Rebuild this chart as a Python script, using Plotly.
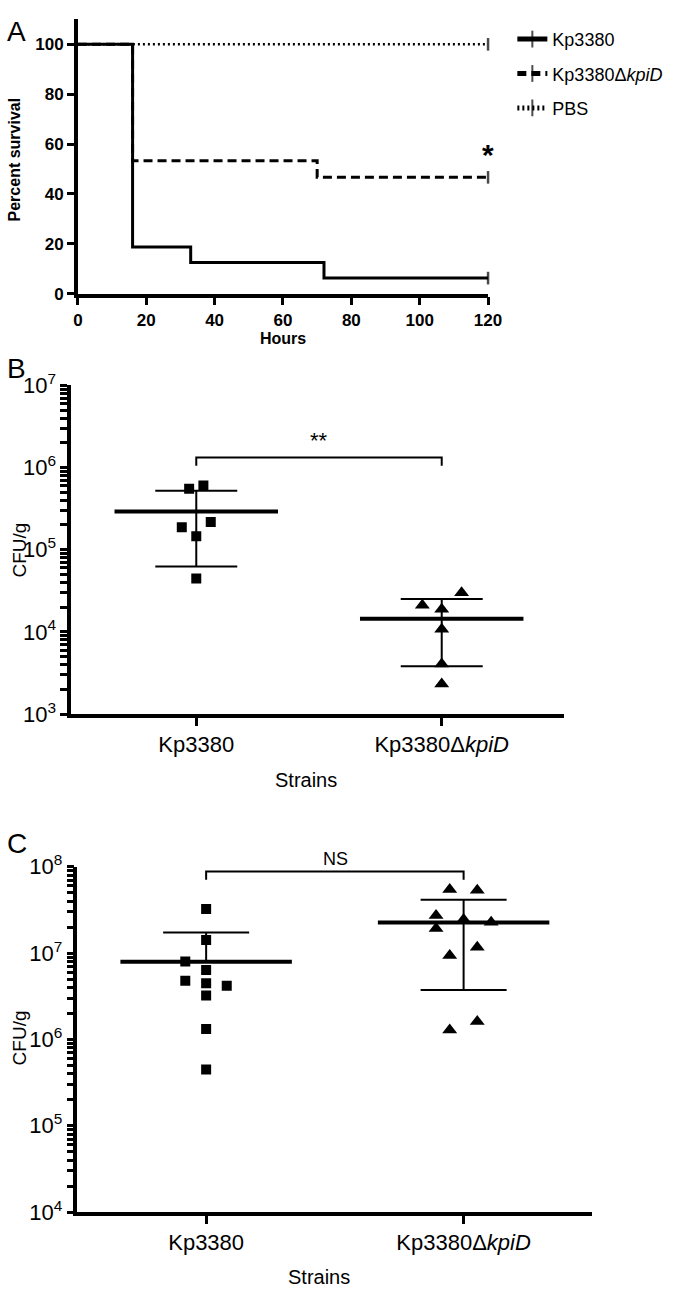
import numpy as np
import plotly.graph_objects as go

W, H = 677, 1307
FONT = "Liberation Sans, Arial, Helvetica, sans-serif"

# ---------------- Panel A data (Kaplan-Meier) ----------------
km_kp3380_t = [0, 16, 33, 72, 120]
km_kp3380_s = [100, 18.75, 12.5, 6.25, 6.25]
km_kpid_t = [0, 16, 70, 120]
km_kpid_s = [100, 53.33, 46.67, 46.67]
km_pbs_t = [0, 120]
km_pbs_s = [100, 100]
a_xticks = [0, 20, 40, 60, 80, 100, 120]
a_yticks = [0, 20, 40, 60, 80, 100]
km_names = ["Kp3380", "Kp3380Δ<i>kpiD</i>", "PBS"]

# ---------------- Panel B data ----------------
strains = ["Kp3380", "Kp3380Δ<i>kpiD</i>"]
b_kp3380 = [5.5e5, 6.05e5, 1.88e5, 2.18e5, 1.46e5, 4.48e4]
b_kpid = [2.99e4, 2.11e4, 1.89e4, 1.08e4, 4.08e3, 2.32e3]
b_jit_kp3380 = [-0.029, 0.029, -0.059, 0.059, 0, 0]
b_jit_kpid = [0.081, -0.079, 0, 0, 0, 0]
b_exps = [3, 4, 5, 6, 7]

# ---------------- Panel C data ----------------
c_kp3380 = [3.24e7, 1.42e7, 7.96e6, 6.35e6, 4.77e6, 4.46e6, 4.19e6, 3.22e6, 1.32e6, 4.49e5]
c_kpid = [5.45e7, 5.35e7, 2.72e7, 2.45e7, 2.28e7, 1.92e7, 1.17e7, 9.40e6, 1.29e6, 1.61e6]
c_jit_kp3380 = [0, 0, -0.081, 0, -0.081, 0, 0.08, 0, 0, 0]
c_jit_kpid = [-0.054, 0.053, -0.107, 0, 0.107, -0.107, 0.053, -0.054, -0.054, 0.053]
c_exps = [4, 5, 6, 7, 8]

# significance brackets (data units): y_top, y_end
b_bracket = (1.32e6, 1.05e6)
c_bracket = (8.77e7, 7.07e7)


def px_x(p):
    return p / W


def px_y(p):
    return 1 - p / H


fig = go.Figure()

# ---- Panel A traces ----
km_sets = [(km_kp3380_t, km_kp3380_s, "solid", 3),
           (km_kpid_t, km_kpid_s, "9px,5px", 3),
           (km_pbs_t, km_pbs_s, "2px,3px", 2.5)]
for i, (t, s, dash, lw) in enumerate(km_sets):
    sizes = [0] * (len(t) - 1) + [9]
    fig.add_trace(go.Scatter(
        x=t, y=s, mode="lines+markers", name=km_names[i],
        line=dict(color="black", width=lw, dash=dash, shape="hv"),
        marker=dict(symbol="line-ns", size=sizes, color="black",
                    line=dict(color="black", width=2.5)),
        legendgroup=f"g{i}", xaxis="x", yaxis="y", showlegend=True,
        cliponaxis=False))


def add_group(values, jitter, xpos, symbol, size, xa, ya):
    v = np.array(values, dtype=float)
    fig.add_trace(go.Scatter(
        x=[xpos + j for j in jitter], y=v, mode="markers",
        marker=dict(symbol=symbol, size=size, color="black"),
        xaxis=xa, yaxis=ya, showlegend=False))
    m = v.mean()
    sd = v.std(ddof=1)
    up = m + sd
    lo = m - sd
    fig.add_trace(go.Scatter(x=[xpos - 0.333, xpos + 0.333], y=[m, m], mode="lines",
                             line=dict(color="black", width=4), xaxis=xa, yaxis=ya,
                             showlegend=False))
    low_end = lo if lo > 0 else m
    fig.add_trace(go.Scatter(x=[xpos, xpos], y=[low_end, up], mode="lines",
                             line=dict(color="black", width=2), xaxis=xa, yaxis=ya,
                             showlegend=False))
    fig.add_trace(go.Scatter(x=[xpos - 0.167, xpos + 0.167], y=[up, up], mode="lines",
                             line=dict(color="black", width=2), xaxis=xa, yaxis=ya,
                             showlegend=False))
    if lo > 0:
        fig.add_trace(go.Scatter(x=[xpos - 0.167, xpos + 0.167], y=[lo, lo], mode="lines",
                                 line=dict(color="black", width=2), xaxis=xa, yaxis=ya,
                                 showlegend=False))


add_group(b_kp3380, b_jit_kp3380, 0, "square", 10, "x2", "y2")
add_group(b_kpid, b_jit_kpid, 1, "triangle-up", 13, "x2", "y2")
add_group(c_kp3380, c_jit_kp3380, 0, "square", 10, "x3", "y3")
add_group(c_kpid, c_jit_kpid, 1, "triangle-up", 13, "x3", "y3")

for (top, end), xa, ya in [(b_bracket, "x2", "y2"), (c_bracket, "x3", "y3")]:
    fig.add_trace(go.Scatter(x=[0, 0, 1, 1], y=[end, top, top, end], mode="lines",
                             line=dict(color="black", width=2), xaxis=xa, yaxis=ya,
                             showlegend=False, cliponaxis=False))

axis_common = dict(showline=True, linecolor="black", linewidth=3.5, ticks="outside",
                   tickcolor="black", tickwidth=3, showgrid=False, zeroline=False)


def log_axis(exps, dom):
    vals, texts = [], []
    for k in exps:
        vals.append(10 ** k)
        texts.append(f"10<sup>{k}</sup>")
        if k != exps[-1]:
            for m in range(2, 10):
                vals.append(m * 10 ** k)
                texts.append("")
    return dict(axis_common, type="log", domain=dom, range=[exps[0], exps[-1]],
                tickvals=vals, ticktext=texts, ticklen=7, tickwidth=2.5,
                tickfont=dict(size=22, family=FONT, color="black"))


fig.update_layout(
    width=W, height=H, margin=dict(l=0, r=0, t=0, b=0),
    paper_bgcolor="white", plot_bgcolor="white",
    font=dict(family=FONT, color="black"),
    xaxis=dict(axis_common, domain=[px_x(75), px_x(497)], range=[0, 120],
               tickvals=a_xticks, ticklen=8, anchor="y",
               tickfont=dict(size=17, family=FONT, color="black", weight="bold")),
    yaxis=dict(axis_common, domain=[px_y(284), px_y(3.5)], range=[0, 110],
               tickvals=a_yticks, ticklen=7, anchor="x",
               tickfont=dict(size=17, family=FONT, color="black", weight="bold")),
    xaxis2=dict(axis_common, domain=[px_x(68), px_x(575.6)], range=[-0.51, 1.5],
                tickvals=[0, 1], ticktext=strains, ticklen=8, anchor="y2",
                tickfont=dict(size=22, family=FONT, color="black")),
    yaxis2=dict(log_axis(b_exps, [px_y(714), px_y(377.7)]), anchor="x2"),
    xaxis3=dict(axis_common, domain=[px_x(74.5), px_x(604.3)], range=[-0.5, 1.5],
                tickvals=[0, 1], ticktext=strains, ticklen=8, anchor="y3",
                tickfont=dict(size=22, family=FONT, color="black")),
    yaxis3=dict(log_axis(c_exps, [px_y(1223.3), px_y(870)]), anchor="x3"),
    legend=dict(x=px_x(522), y=px_y(5), xanchor="left", yanchor="top",
                font=dict(size=18, family=FONT, color="black"),
                bgcolor="rgba(0,0,0,0)", itemsizing="constant", tracegroupgap=8,
                itemwidth=30),
    showlegend=True,
)

ann = []


def paper_text(text, x, y, size, bold=False, angle=0):
    ann.append(dict(text=text, x=px_x(x), y=px_y(y), xref="paper", yref="paper",
                    showarrow=False, xanchor="center", yanchor="middle", textangle=angle,
                    font=dict(size=size, family=FONT, color="black",
                              weight="bold" if bold else "normal")))


paper_text("A", 12, 16, 28)
paper_text("B", 12, 361, 28)
paper_text("C", 12, 846, 28)
paper_text("Percent survival", 10, 147, 16, bold=True, angle=-90)
paper_text("Hours", 286, 330, 16, bold=True)
paper_text("CFU/g", 15, 546, 19, angle=-90)
paper_text("Strains", 310, 781, 20)
paper_text("CFU/g", 15, 1045, 19, angle=-90)
paper_text("Strains", 323, 1290, 20)
paper_text("NS", 340, 862, 18)

ann.append(dict(text="*", x=120, y=56, xref="x", yref="y", showarrow=False,
                xanchor="center", yanchor="middle",
                font=dict(size=30, family=FONT, color="black", weight="bold")))
ann.append(dict(text="**", x=0.5, y=6.33, xref="x2", yref="y2", showarrow=False,
                xanchor="center", yanchor="middle",
                font=dict(size=22, family=FONT, color="black")))
fig.update_layout(annotations=ann)

fig.write_html("out.html", config={"displayModeBar": False},
               post_script="document.body.style.margin='0';document.body.style.padding='0';")
